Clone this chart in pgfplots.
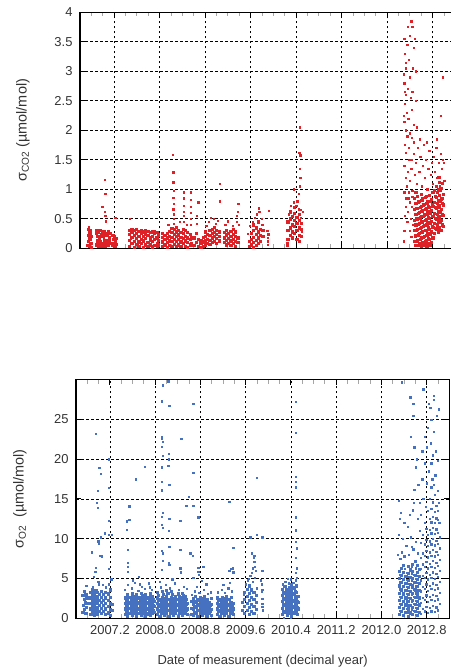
\documentclass[border=0pt]{standalone}
\usepackage{fontspec}
\setmainfont{Liberation Sans}
\usepackage{pgfplots}
\pgfplotsset{compat=1.18}
\definecolor{cred}{RGB}{222,33,38}
\definecolor{cblue}{RGB}{70,112,192}
\definecolor{ctxt}{RGB}{51,51,51}
\pgfplotsset{
 common/.style={
  scale only axis, xmin=2006.6, xmax=2013.2, ymin=0,
  xtick={2007.2,2008.0,2008.8,2009.6,2010.4,2011.2,2012.0,2012.8},
  minor xtick={2006.8,2007.0,2007.4,2007.6,2007.8,2008.2,2008.4,2008.6,2009.0,2009.2,2009.4,2009.8,2010.0,2010.2,2010.6,2010.8,2011.0,2011.4,2011.6,2011.8,2012.2,2012.4,2012.6,2013.0},
  grid=major,
  major grid style={black, line width=0.8bp, dash pattern=on 2.5bp off 2.5bp},
  axis line style={black, line width=1.1bp},
  major tick length=5bp, minor tick length=4bp,
  major tick style={black, line width=1bp},
  minor tick style={black!35, line width=1bp},
  tick align=inside,
  tick label style={font=\fontsize{13}{15}\selectfont, color=ctxt},
  yticklabel style={xshift=-4bp},
  xticklabel style={yshift=-4bp},
  label style={font=\fontsize{13}{15}\selectfont, color=ctxt},
  /pgf/number format/assume math mode=true,
 },
 core/.style={only marks, mark=square*, mark size=1.1bp, mark options={draw=none}},
 sparse/.style={only marks, mark=square*, mark size=0.65bp, mark options={draw=none}},
}
\begin{document}
\begin{tikzpicture}[x=1bp,y=1bp]
\useasboundingbox (0,0) rectangle (451,672);
\clip (0,0) rectangle (451,672);
% ---------------- top panel: CO2 ----------------
\begin{axis}[common, at={(80bp,423.7bp)}, anchor=south west,
  width=375.5bp, height=236bp, ymax=4,
  ytick={0,0.5,1,1.5,2,2.5,3,3.5,4}, xticklabels={},
  ylabel={σ\textsubscript{CO2} (µmol/mol)},
  ylabel style={font=\fontsize{14.5}{16}\selectfont, at={(axis description cs:-0.152,0.5)}, anchor=center}]
\addplot[core, color=cred] coordinates {
(2006.735,0.05)(2006.74,0.22)(2006.745,0.33)(2006.75,0.12)(2006.755,0.28)(2006.76,0.04)(2006.765,0.18)(2006.77,0.31)(2006.775,0.09)(2006.78,0.25)(2006.785,0.15)(2006.79,0.02)(2006.795,0.21)(2006.80,0.08)
(2006.88,0.25)(2006.895,0.30)(2006.91,0.21)(2006.925,0.28)(2006.94,0.19)(2006.955,0.31)(2006.97,0.24)(2006.985,0.27)(2007.00,0.20)(2007.015,0.29)(2007.03,0.23)(2007.045,0.26)(2007.08,0.22)(2007.095,0.28)(2007.11,0.19)(2007.125,0.25)
(2006.885,0.06)(2006.90,0.10)(2006.915,0.03)(2006.93,0.08)(2006.945,0.05)(2006.96,0.11)(2006.975,0.04)(2006.99,0.09)(2007.005,0.06)(2007.02,0.12)(2007.035,0.03)(2007.05,0.07)(2007.085,0.10)(2007.10,0.05)(2007.115,0.13)(2007.13,0.08)
(2007.17,0.05)(2007.18,0.15)(2007.19,0.09)(2007.20,0.20)(2007.21,0.03)(2007.22,0.12)(2007.23,0.07)(2007.24,0.17)(2007.175,0.22)(2007.215,0.10)
(2007.47,0.04)(2007.47,0.14)(2007.47,0.24)(2007.47,0.31)(2007.51,0.09)(2007.51,0.19)(2007.51,0.28)(2007.51,0.33)
(2007.55,0.02)(2007.55,0.12)(2007.55,0.22)(2007.55,0.30)(2007.59,0.07)(2007.59,0.17)(2007.59,0.26)(2007.59,0.32)
(2007.63,0.03)(2007.63,0.11)(2007.63,0.21)(2007.63,0.29)(2007.67,0.08)(2007.67,0.15)(2007.67,0.25)(2007.67,0.31)
(2007.71,0.02)(2007.71,0.13)(2007.71,0.20)(2007.71,0.28)(2007.75,0.06)(2007.75,0.17)(2007.75,0.24)(2007.75,0.30)
(2007.79,0.03)(2007.79,0.10)(2007.79,0.22)(2007.79,0.29)(2007.83,0.07)(2007.83,0.14)(2007.83,0.19)(2007.83,0.27)
(2007.87,0.02)(2007.87,0.12)(2007.87,0.21)(2007.87,0.28)(2007.91,0.05)(2007.91,0.16)(2007.91,0.25)(2007.91,0.29)
(2007.95,0.03)(2007.95,0.09)(2007.95,0.18)(2007.95,0.27)(2007.98,0.06)(2007.98,0.14)(2007.98,0.23)
(2008.05,0.03)(2008.05,0.11)(2008.05,0.19)(2008.05,0.26)(2008.09,0.06)(2008.09,0.15)(2008.09,0.22)
(2008.13,0.02)(2008.13,0.10)(2008.13,0.18)(2008.13,0.25)(2008.17,0.05)(2008.17,0.13)(2008.17,0.21)(2008.17,0.29)
(2008.21,0.03)(2008.21,0.12)(2008.21,0.19)(2008.21,0.27)(2008.21,0.34)(2008.25,0.07)(2008.25,0.16)(2008.25,0.24)(2008.25,0.32)
(2008.29,0.04)(2008.29,0.12)(2008.29,0.20)(2008.29,0.28)(2008.29,0.36)(2008.33,0.06)(2008.33,0.15)(2008.33,0.23)(2008.33,0.31)
(2008.37,0.03)(2008.37,0.11)(2008.37,0.19)(2008.37,0.27)(2008.41,0.08)(2008.41,0.17)(2008.41,0.25)(2008.41,0.33)
(2008.45,0.04)(2008.45,0.13)(2008.45,0.21)(2008.45,0.30)(2008.49,0.02)(2008.49,0.10)(2008.49,0.18)(2008.49,0.27)
(2008.53,0.06)(2008.53,0.15)(2008.53,0.24)(2008.56,0.09)(2008.56,0.19)
(2008.60,0.05)(2008.60,0.18)(2008.64,0.10)(2008.64,0.25)(2008.68,0.03)(2008.68,0.15)
(2008.72,0.02)(2008.72,0.08)(2008.72,0.14)(2008.76,0.04)(2008.76,0.11)(2008.76,0.19)
(2008.80,0.06)(2008.80,0.13)(2008.80,0.21)(2008.80,0.28)(2008.84,0.09)(2008.84,0.16)(2008.84,0.24)
(2008.88,0.07)(2008.88,0.14)(2008.88,0.22)(2008.88,0.30)(2008.92,0.10)(2008.92,0.18)(2008.92,0.25)(2008.92,0.33)
(2008.96,0.12)(2008.96,0.20)(2008.96,0.27)(2008.96,0.36)(2009.00,0.09)(2009.00,0.17)(2009.00,0.24)(2009.00,0.31)
(2009.04,0.13)(2009.04,0.21)(2009.04,0.28)
(2009.13,0.10)(2009.13,0.18)(2009.13,0.27)(2009.17,0.06)(2009.17,0.14)(2009.17,0.23)(2009.17,0.31)
(2009.21,0.09)(2009.21,0.17)(2009.21,0.26)(2009.25,0.05)(2009.25,0.13)(2009.25,0.21)(2009.25,0.29)
(2009.29,0.08)(2009.29,0.16)(2009.29,0.24)(2009.29,0.33)(2009.33,0.04)(2009.33,0.12)(2009.33,0.20)(2009.33,0.28)
(2009.37,0.10)(2009.37,0.18)
(2009.57,0.03)(2009.57,0.12)(2009.61,0.06)(2009.61,0.15)(2009.61,0.25)
(2009.65,0.02)(2009.65,0.10)(2009.65,0.19)(2009.65,0.30)(2009.65,0.40)(2009.69,0.05)(2009.69,0.14)(2009.69,0.24)(2009.69,0.35)
(2009.73,0.09)(2009.73,0.18)(2009.73,0.28)(2009.73,0.45)(2009.77,0.12)(2009.77,0.22)(2009.77,0.33)(2009.81,0.20)(2009.81,0.30)
(2010.25,0.15)(2010.25,0.30)(2010.25,0.45)(2010.29,0.22)(2010.29,0.35)(2010.29,0.50)(2010.29,0.62)
(2010.33,0.18)(2010.33,0.28)(2010.33,0.40)(2010.33,0.55)(2010.37,0.25)(2010.37,0.38)(2010.37,0.48)(2010.37,0.60)(2010.37,0.70)
(2010.41,0.15)(2010.41,0.30)(2010.41,0.42)(2010.41,0.53)(2010.45,0.12)(2010.45,0.22)(2010.45,0.35)(2010.45,0.47)(2010.45,0.58)
(2010.49,0.20)(2010.49,0.32)(2010.49,0.43)
(2012.47,0.12)(2012.47,0.30)(2012.47,0.48)(2012.47,0.66)(2012.47,0.85)
(2012.50,0.05)(2012.50,0.22)(2012.50,0.40)(2012.50,0.58)(2012.50,0.76)(2012.50,0.95)
(2012.53,0.14)(2012.53,0.32)(2012.53,0.50)(2012.53,0.68)(2012.53,0.88)
(2012.56,0.08)(2012.56,0.25)(2012.56,0.43)(2012.56,0.61)(2012.56,0.80)
(2012.59,0.04)(2012.59,0.18)(2012.59,0.36)(2012.59,0.54)(2012.59,0.72)(2012.59,0.92)
(2012.62,0.10)(2012.62,0.28)(2012.62,0.46)(2012.62,0.64)(2012.62,0.84)
(2012.65,0.06)(2012.65,0.21)(2012.65,0.39)(2012.65,0.57)(2012.65,0.75)
(2012.68,0.13)(2012.68,0.31)(2012.68,0.49)(2012.68,0.67)(2012.68,0.88)
(2012.71,0.08)(2012.71,0.26)(2012.71,0.44)(2012.71,0.62)(2012.71,0.80)
(2012.74,0.15)(2012.74,0.33)(2012.74,0.51)(2012.74,0.70)(2012.74,0.90)
(2012.77,0.10)(2012.77,0.28)(2012.77,0.46)(2012.77,0.64)(2012.77,0.83)
(2012.80,0.18)(2012.80,0.36)(2012.80,0.54)(2012.80,0.72)(2012.80,0.95)
(2012.485,0.20)(2012.485,0.40)(2012.485,0.58)(2012.485,0.77)
(2012.515,0.12)(2012.515,0.31)(2012.515,0.50)(2012.515,0.68)
(2012.545,0.05)(2012.545,0.23)(2012.545,0.41)(2012.545,0.60)(2012.545,0.79)
(2012.575,0.16)(2012.575,0.34)(2012.575,0.52)(2012.575,0.70)
(2012.605,0.09)(2012.605,0.27)(2012.605,0.45)(2012.605,0.63)(2012.605,0.82)
(2012.635,0.19)(2012.635,0.37)(2012.635,0.55)(2012.635,0.74)
(2012.665,0.12)(2012.665,0.30)(2012.665,0.48)(2012.665,0.66)(2012.665,0.86)
(2012.695,0.04)(2012.695,0.22)(2012.695,0.40)(2012.695,0.58)(2012.695,0.77)
(2012.725,0.17)(2012.725,0.35)(2012.725,0.53)(2012.725,0.71)
(2012.755,0.06)(2012.755,0.24)(2012.755,0.42)(2012.755,0.60)(2012.755,0.80)
(2012.785,0.19)(2012.785,0.37)(2012.785,0.55)(2012.785,0.74)
(2012.83,0.25)(2012.83,0.42)(2012.83,0.60)(2012.83,0.78)(2012.83,0.98)
(2012.86,0.32)(2012.86,0.50)(2012.86,0.68)(2012.86,0.86)(2012.86,1.05)
(2012.89,0.28)(2012.89,0.45)(2012.89,0.63)(2012.89,0.81)(2012.89,1.00)
(2012.92,0.35)(2012.92,0.52)(2012.92,0.70)(2012.92,0.90)(2012.92,1.12)
(2012.95,0.30)(2012.95,0.48)(2012.95,0.66)(2012.95,0.84)(2012.95,1.02)
(2012.98,0.38)(2012.98,0.56)(2012.98,0.74)(2012.98,0.92)
(2012.845,0.34)(2012.845,0.51)(2012.845,0.69)(2012.845,0.88)
(2012.875,0.40)(2012.875,0.58)(2012.875,0.77)(2012.875,0.95)
(2012.905,0.36)(2012.905,0.55)(2012.905,0.73)(2012.905,1.20)
(2012.935,0.44)(2012.935,0.61)(2012.935,0.80)(2012.935,0.98)
(2012.965,0.40)(2012.965,0.57)(2012.965,0.76)(2012.965,1.10)
};
\addplot[sparse, color=cred] coordinates {
(2006.75,0.36)(2006.77,0.14)
(2006.90,0.15)(2006.95,0.16)(2007.02,0.17)(2007.06,0.14)(2007.11,0.16)(2006.93,0.14)
(2007.04,1.16)(2007.045,0.92)(2006.99,0.70)(2007.04,0.62)(2007.045,0.55)(2007.05,0.46)(2007.22,0.52)
(2007.49,0.16)(2007.61,0.05)(2007.73,0.27)(2007.85,0.04)(2007.93,0.20)(2007.47,0.50)
(2008.25,0.42)(2008.25,0.50)(2008.25,0.58)(2008.24,0.66)(2008.25,0.75)(2008.24,0.86)(2008.25,0.98)(2008.24,1.12)(2008.24,1.29)(2008.23,1.59)
(2008.42,0.45)(2008.42,0.55)(2008.42,0.62)(2008.42,0.72)(2008.42,0.85)(2008.42,0.95)
(2008.55,0.40)(2008.55,0.50)(2008.55,0.60)(2008.55,0.70)(2008.55,0.82)(2008.55,0.95)
(2008.68,0.78)(2008.65,0.42)(2008.65,0.55)(2008.15,0.40)(2008.35,0.45)(2008.48,0.40)
(2008.86,0.45)(2008.90,0.52)(2008.95,0.50)(2008.99,0.42)(2008.82,0.38)(2009.02,0.47)(2009.06,1.10)(2009.06,0.80)
(2009.35,0.45)(2009.36,0.55)(2009.37,0.62)(2009.38,0.75)(2009.39,0.40)(2009.15,0.40)(2009.20,0.46)(2009.28,0.38)
(2009.55,0.25)(2009.58,0.38)(2009.63,0.45)(2009.67,0.52)(2009.71,0.58)(2009.75,0.62)(2009.79,0.50)(2009.74,0.68)(2009.80,0.40)
(2009.90,0.12)(2009.90,0.18)(2009.91,0.24)(2009.90,0.06)(2009.89,0.30)(2009.92,0.64)
(2010.24,0.05)(2010.24,0.09)(2010.27,0.58)(2010.30,0.72)(2010.36,0.78)(2010.42,0.80)(2010.44,0.66)(2010.47,0.65)(2010.48,0.52)(2010.50,0.28)(2010.51,0.62)
(2010.44,0.92)(2010.46,1.05)(2010.47,1.20)(2010.46,1.35)(2010.47,1.58)(2010.45,1.62)(2010.46,2.05)(2010.36,1.00)(2010.40,0.72)
(2012.30,3.55)(2012.31,3.30)(2012.32,3.05)(2012.30,2.80)(2012.33,2.60)(2012.31,2.45)(2012.34,2.30)(2012.30,2.15)(2012.32,2.00)(2012.35,1.90)
(2012.31,1.75)(2012.33,1.62)(2012.36,2.70)(2012.38,3.20)(2012.40,3.60)(2012.42,3.85)(2012.44,3.75)(2012.39,2.90)(2012.41,2.55)(2012.37,2.20)
(2012.40,1.95)(2012.43,2.35)(2012.45,3.05)(2012.46,3.40)(2012.38,1.70)(2012.42,1.50)(2012.35,3.45)(2012.29,2.95)(2012.29,2.25)(2012.44,2.65)
(2012.47,2.10)(2012.48,3.55)(2012.50,3.00)(2012.36,3.75)(2012.33,3.15)(2012.31,2.65)(2012.47,1.80)(2012.50,2.50)(2012.52,2.05)(2012.43,1.88)
(2012.98,2.90)(2012.94,2.25)(2012.99,1.45)(2012.98,0.85)
(2012.30,1.40)(2012.32,1.20)(2012.34,1.05)(2012.30,0.95)(2012.36,1.30)(2012.38,1.50)(2012.40,1.15)(2012.42,1.35)(2012.44,0.98)(2012.46,1.60)
(2012.48,1.25)(2012.50,1.45)(2012.52,1.10)(2012.54,1.70)(2012.56,1.30)(2012.58,1.55)(2012.60,1.05)(2012.62,1.40)(2012.64,1.75)(2012.66,1.20)
(2012.68,1.50)(2012.70,1.00)(2012.72,1.35)(2012.74,1.65)(2012.76,1.25)(2012.78,1.45)(2012.80,1.10)(2012.82,1.55)(2012.84,1.30)(2012.86,1.70)
(2012.88,1.20)(2012.90,1.45)(2012.92,1.05)(2012.94,1.60)(2012.96,1.35)(2012.98,1.50)(2013.00,1.15)(2012.57,1.85)(2012.69,1.80)(2012.87,1.85)
(2012.33,0.70)(2012.31,0.55)(2012.35,0.45)(2012.30,0.30)(2012.29,0.12)(2012.37,0.85)
(2012.33,0.85)(2012.36,0.62)(2012.39,0.78)(2012.41,0.50)(2012.43,0.70)(2012.45,0.40)(2012.38,0.95)(2012.44,0.88)(2012.40,0.30)(2012.42,0.20)
};
\end{axis}
% ---------------- bottom panel: O2 ----------------
\begin{axis}[common, at={(76bp,53.7bp)}, anchor=south west,
  width=373.3bp, height=238.6bp, ymax=30,
  ytick={0,5,10,15,20,25},
  xticklabels={2007.2,2008.0,2008.8,2009.6,2010.4,2011.2,2012.0,2012.8},
  ylabel={σ\textsubscript{O2}\ \ (µmol/mol)},
  ylabel style={font=\fontsize{14.5}{16}\selectfont, at={(axis description cs:-0.150,0.5)}, anchor=center},
  xlabel={Date of measurement (decimal year)},
  xlabel style={at={(axis description cs:0.5,-0.179)}, anchor=center}]
\addplot[core, color=cblue] coordinates {
(2006.72,0.8)(2006.73,1.6)(2006.74,2.4)(2006.75,1.1)(2006.76,2.0)(2006.77,3.0)(2006.78,1.4)(2006.79,2.6)(2006.72,2.9)(2006.75,3.4)(2006.77,0.6)(2006.79,1.9)
(2006.86,0.5)(2006.86,1.2)(2006.86,1.9)(2006.86,2.6)(2006.86,3.3)(2006.89,0.8)(2006.89,1.5)(2006.89,2.2)(2006.89,2.9)(2006.89,3.6)
(2006.92,0.4)(2006.92,1.1)(2006.92,1.8)(2006.92,2.5)(2006.92,3.2)(2006.95,0.7)(2006.95,1.4)(2006.95,2.1)(2006.95,2.8)(2006.95,3.5)
(2006.98,0.5)(2006.98,1.2)(2006.98,1.9)(2006.98,2.6)(2006.98,3.3)(2007.01,0.9)(2007.01,1.6)(2007.01,2.3)(2007.01,3.0)
(2007.05,0.6)(2007.05,1.3)(2007.05,2.0)(2007.05,2.7)(2007.05,3.4)(2007.08,0.9)(2007.08,1.6)(2007.08,2.3)(2007.08,3.0)
(2007.11,0.5)(2007.11,1.2)(2007.11,1.9)(2007.11,2.6)(2007.11,3.3)
(2007.17,0.7)(2007.17,1.5)(2007.17,2.3)(2007.17,3.1)(2007.20,0.4)(2007.20,1.1)(2007.20,1.9)(2007.20,2.7)(2007.20,3.6)(2007.23,1.0)(2007.23,1.8)
(2007.47,0.5)(2007.47,1.2)(2007.47,1.9)(2007.47,2.6)(2007.51,0.3)(2007.51,0.9)(2007.51,1.6)(2007.51,2.3)(2007.51,3.0)
(2007.55,0.6)(2007.55,1.3)(2007.55,2.0)(2007.55,2.7)(2007.59,0.4)(2007.59,1.0)(2007.59,1.7)(2007.59,2.4)(2007.59,3.1)
(2007.63,0.7)(2007.63,1.4)(2007.63,2.1)(2007.63,2.8)(2007.67,0.3)(2007.67,1.0)(2007.67,1.6)(2007.67,2.3)(2007.67,3.0)
(2007.71,0.6)(2007.71,1.2)(2007.71,1.9)(2007.71,2.6)(2007.75,0.4)(2007.75,1.1)(2007.75,1.8)(2007.75,2.5)(2007.75,3.2)
(2007.79,0.7)(2007.79,1.3)(2007.79,2.0)(2007.79,2.7)(2007.83,0.3)(2007.83,1.0)(2007.83,1.6)(2007.83,2.3)(2007.83,3.0)
(2007.87,0.5)(2007.87,1.2)(2007.87,1.9)(2007.87,2.6)(2007.91,0.4)(2007.91,1.1)(2007.91,1.7)(2007.91,2.4)(2007.91,3.1)
(2007.95,0.6)(2007.95,1.3)(2007.95,2.0)(2007.95,2.8)(2007.98,0.8)(2007.98,1.5)(2007.98,2.2)
(2007.49,0.85)(2007.49,1.55)(2007.49,2.25)(2007.53,0.6)(2007.53,1.25)(2007.53,1.95)(2007.53,2.65)
(2007.57,0.95)(2007.57,1.65)(2007.57,2.35)(2007.61,0.7)(2007.61,1.35)(2007.61,2.05)(2007.61,2.75)
(2007.65,1.05)(2007.65,1.75)(2007.65,2.45)(2007.69,0.65)(2007.69,1.3)(2007.69,1.95)(2007.69,2.65)
(2007.73,0.95)(2007.73,1.55)(2007.73,2.25)(2007.77,0.75)(2007.77,1.45)(2007.77,2.15)(2007.77,2.85)
(2007.81,1.0)(2007.81,1.65)(2007.81,2.35)(2007.85,0.65)(2007.85,1.3)(2007.85,1.95)(2007.85,2.65)
(2007.89,0.85)(2007.89,1.55)(2007.89,2.25)(2007.93,0.75)(2007.93,1.4)(2007.93,2.05)(2007.93,2.75)
(2007.97,0.95)(2007.97,1.65)(2007.97,2.4)
(2008.04,0.5)(2008.04,1.2)(2008.04,1.9)(2008.04,2.6)(2008.04,3.3)(2008.08,0.3)(2008.08,1.0)(2008.08,1.7)(2008.08,2.4)
(2008.12,0.6)(2008.12,1.3)(2008.12,2.0)(2008.12,2.7)(2008.12,3.4)(2008.16,0.4)(2008.16,1.1)(2008.16,1.8)(2008.16,2.5)
(2008.20,0.7)(2008.20,1.4)(2008.20,2.1)(2008.20,2.8)(2008.20,3.5)(2008.24,0.3)(2008.24,1.0)(2008.24,1.7)(2008.24,2.4)
(2008.28,0.6)(2008.28,1.3)(2008.28,2.0)(2008.28,2.7)(2008.28,3.4)(2008.32,0.4)(2008.32,1.1)(2008.32,1.8)(2008.32,2.5)
(2008.36,0.7)(2008.36,1.4)(2008.36,2.1)(2008.36,2.8)(2008.40,0.3)(2008.40,1.0)(2008.40,1.7)(2008.40,2.4)(2008.40,3.1)
(2008.44,0.6)(2008.44,1.3)(2008.44,2.0)(2008.44,2.7)(2008.48,0.4)(2008.48,1.1)(2008.48,1.8)(2008.48,2.5)(2008.48,3.2)
(2008.52,0.7)(2008.52,1.4)(2008.52,2.1)(2008.52,2.8)(2008.56,0.5)(2008.56,1.2)(2008.56,1.9)
(2008.06,0.85)(2008.06,1.55)(2008.06,2.25)(2008.06,2.95)(2008.10,0.65)(2008.10,1.35)(2008.10,2.05)
(2008.14,0.95)(2008.14,1.65)(2008.14,2.35)(2008.14,3.05)(2008.18,0.75)(2008.18,1.45)(2008.18,2.15)
(2008.22,1.05)(2008.22,1.75)(2008.22,2.45)(2008.22,3.15)(2008.26,0.65)(2008.26,1.35)(2008.26,2.05)
(2008.30,0.95)(2008.30,1.65)(2008.30,2.35)(2008.30,3.05)(2008.34,0.75)(2008.34,1.45)(2008.34,2.15)
(2008.38,1.05)(2008.38,1.75)(2008.38,2.45)(2008.42,0.65)(2008.42,1.35)(2008.42,2.05)(2008.42,2.75)
(2008.46,0.95)(2008.46,1.65)(2008.46,2.35)(2008.50,0.75)(2008.50,1.45)(2008.50,2.15)(2008.50,2.85)
(2008.54,1.05)(2008.54,1.75)(2008.54,2.45)
(2008.63,0.5)(2008.63,1.3)(2008.63,2.1)(2008.67,0.4)(2008.67,1.1)(2008.67,1.8)(2008.67,2.5)
(2008.71,0.7)(2008.71,1.4)(2008.71,2.1)(2008.71,2.8)(2008.75,0.3)(2008.75,1.0)(2008.75,1.7)(2008.75,2.4)
(2008.79,0.6)(2008.79,1.3)(2008.79,2.0)(2008.79,2.7)(2008.83,0.4)(2008.83,1.1)(2008.83,1.8)(2008.83,2.5)
(2008.87,0.7)(2008.87,1.4)(2008.87,2.1)(2008.87,2.8)(2008.91,0.3)(2008.91,1.0)(2008.91,1.7)(2008.91,2.4)
(2008.95,0.6)(2008.95,1.3)(2008.95,2.0)(2008.99,0.4)(2008.99,1.1)(2008.99,1.8)(2008.99,2.5)
(2008.69,0.75)(2008.69,1.45)(2008.69,2.15)(2008.73,0.65)(2008.73,1.35)(2008.73,2.05)(2008.77,1.0)(2008.77,1.65)(2008.77,2.35)
(2008.81,0.75)(2008.81,1.45)(2008.81,2.15)(2008.85,0.65)(2008.85,1.35)(2008.85,2.05)(2008.89,1.0)(2008.89,1.75)(2008.89,2.45)
(2008.93,0.65)(2008.93,1.35)(2008.93,2.05)(2008.97,0.9)(2008.97,1.6)
(2009.10,0.5)(2009.10,1.2)(2009.10,1.9)(2009.10,2.6)(2009.14,0.3)(2009.14,1.0)(2009.14,1.7)(2009.14,2.4)
(2009.18,0.6)(2009.18,1.3)(2009.18,2.0)(2009.18,2.7)(2009.22,0.4)(2009.22,1.1)(2009.22,1.8)(2009.22,2.5)
(2009.26,0.7)(2009.26,1.4)(2009.26,2.1)(2009.26,2.8)(2009.30,0.3)(2009.30,1.0)(2009.30,1.7)(2009.30,2.4)
(2009.34,0.6)(2009.34,1.3)(2009.34,2.0)(2009.34,2.7)(2009.38,0.5)(2009.38,1.2)(2009.38,1.9)
(2009.12,0.85)(2009.12,1.55)(2009.12,2.25)(2009.16,0.65)(2009.16,1.35)(2009.16,2.05)(2009.20,0.95)(2009.20,1.65)(2009.20,2.35)
(2009.24,0.75)(2009.24,1.45)(2009.24,2.15)(2009.28,1.05)(2009.28,1.75)(2009.28,2.45)(2009.32,0.65)(2009.32,1.35)(2009.32,2.05)
(2009.36,0.95)(2009.36,1.65)
(2009.54,1.0)(2009.54,2.0)(2009.58,0.6)(2009.58,1.5)(2009.58,2.4)(2009.58,3.3)(2009.62,1.0)(2009.62,1.9)(2009.62,2.8)(2009.62,3.7)
(2009.66,0.5)(2009.66,1.4)(2009.66,2.3)(2009.66,3.2)(2009.66,4.1)(2009.70,0.9)(2009.70,1.8)(2009.70,2.7)(2009.70,3.6)
(2009.74,0.6)(2009.74,1.5)(2009.74,2.4)(2009.74,3.3)(2009.78,1.1)(2009.78,2.0)(2009.78,2.9)
(2010.25,0.5)(2010.25,1.3)(2010.25,2.1)(2010.25,2.9)(2010.25,3.7)(2010.29,0.8)(2010.29,1.6)(2010.29,2.4)(2010.29,3.2)(2010.29,4.0)
(2010.33,0.4)(2010.33,1.2)(2010.33,2.0)(2010.33,2.8)(2010.33,3.6)(2010.37,0.7)(2010.37,1.5)(2010.37,2.3)(2010.37,3.1)(2010.37,3.9)
(2010.41,0.3)(2010.41,1.1)(2010.41,1.9)(2010.41,2.7)(2010.41,3.5)(2010.41,4.3)(2010.45,0.6)(2010.45,1.4)(2010.45,2.2)(2010.45,3.0)(2010.45,3.8)
(2010.49,0.9)(2010.49,1.7)(2010.49,2.5)(2010.49,3.3)(2010.49,4.1)(2010.52,1.2)(2010.52,2.0)(2010.52,2.8)
(2010.27,0.9)(2010.27,1.7)(2010.27,2.5)(2010.27,3.3)(2010.31,1.2)(2010.31,2.0)(2010.31,2.8)(2010.31,3.6)
(2010.35,0.8)(2010.35,1.6)(2010.35,2.4)(2010.35,3.2)(2010.39,1.1)(2010.39,1.9)(2010.39,2.7)(2010.39,3.5)
(2010.43,0.7)(2010.43,1.5)(2010.43,2.3)(2010.43,3.1)(2010.43,3.9)(2010.47,1.0)(2010.47,1.8)(2010.47,2.6)(2010.47,3.4)
(2010.51,0.5)(2010.51,1.4)(2010.51,2.2)
(2012.31,0.5)(2012.31,1.4)(2012.31,2.3)(2012.31,3.2)(2012.31,4.1)(2012.31,5.0)(2012.31,5.9)
(2012.35,0.9)(2012.35,1.8)(2012.35,2.7)(2012.35,3.6)(2012.35,4.5)(2012.35,5.4)(2012.35,6.3)
(2012.39,0.4)(2012.39,1.3)(2012.39,2.2)(2012.39,3.1)(2012.39,4.0)(2012.39,4.9)(2012.39,5.8)(2012.39,6.7)
(2012.43,0.8)(2012.43,1.7)(2012.43,2.6)(2012.43,3.5)(2012.43,4.4)(2012.43,5.3)
(2012.47,0.3)(2012.47,1.2)(2012.47,2.1)(2012.47,3.0)(2012.47,3.9)(2012.47,4.8)(2012.47,5.7)(2012.47,6.6)
(2012.51,0.7)(2012.51,1.6)(2012.51,2.5)(2012.51,3.4)(2012.51,4.3)(2012.51,5.2)(2012.51,6.1)
(2012.55,0.5)(2012.55,1.4)(2012.55,2.3)(2012.55,3.2)(2012.55,4.1)(2012.55,5.0)(2012.55,5.9)(2012.55,6.8)
(2012.59,0.9)(2012.59,1.8)(2012.59,2.7)(2012.59,3.6)(2012.59,4.5)(2012.59,5.4)(2012.59,7.2)
(2012.63,0.4)(2012.63,1.3)(2012.63,2.2)(2012.63,3.1)(2012.63,4.0)(2012.63,4.9)(2012.63,5.8)(2012.63,6.7)
(2012.67,0.8)(2012.67,1.7)(2012.67,2.6)(2012.67,3.5)(2012.67,4.4)(2012.67,5.3)(2012.67,6.2)
};
\addplot[sparse, color=cblue] coordinates {
(2012.33,0.95)(2012.33,1.85)(2012.33,2.75)(2012.33,3.65)(2012.33,4.55)(2012.33,5.45)
(2012.37,0.45)(2012.37,1.35)(2012.37,2.25)(2012.37,3.15)(2012.37,4.05)(2012.37,4.95)(2012.37,5.85)
(2012.41,0.85)(2012.41,1.75)(2012.41,2.65)(2012.41,3.55)(2012.41,4.45)(2012.41,5.35)(2012.41,6.25)
(2012.45,1.25)(2012.45,2.15)(2012.45,3.05)(2012.45,3.95)(2012.45,4.85)(2012.45,5.75)
(2012.49,0.75)(2012.49,1.65)(2012.49,2.55)(2012.49,3.45)(2012.49,4.35)(2012.49,5.25)
(2012.53,1.15)(2012.53,2.05)(2012.53,2.95)(2012.53,3.85)(2012.53,4.75)(2012.53,5.65)(2012.53,6.55)
(2012.57,0.95)(2012.57,1.85)(2012.57,2.75)(2012.57,3.65)(2012.57,4.55)(2012.57,5.45)
(2012.61,0.45)(2012.61,1.35)(2012.61,2.25)(2012.61,3.15)(2012.61,4.05)(2012.61,4.95)(2012.61,6.3)
(2012.65,0.85)(2012.65,1.75)(2012.65,2.65)(2012.65,3.55)(2012.65,4.45)(2012.65,5.35)
(2006.95,23.2)(2007.01,18.9)(2007.04,18.2)(2006.98,16.0)(2006.97,14.5)(2006.98,13.9)(2007.18,12.3)(2007.18,16.4)(2007.11,10.7)(2007.00,9.4)
(2006.99,9.7)(2007.04,10.2)(2006.88,8.3)(2007.02,7.9)(2007.05,7.8)(2006.95,6.4)(2006.94,5.9)(2006.91,5.2)(2007.18,6.2)(2007.18,10.5)
(2007.23,10.5)(2007.18,20.0)(2007.22,4.9)(2006.99,4.6)(2007.07,4.2)(2006.90,4.0)(2006.78,4.1)(2007.12,3.9)(2007.18,4.3)(2007.00,4.3)
(2007.50,12.2)(2007.54,12.4)(2007.54,14.1)(2007.51,8.6)(2007.51,7.0)(2007.50,11.1)(2007.81,19.1)(2007.65,17.5)(2007.71,5.2)
(2007.46,3.6)(2007.52,4.2)(2007.58,3.8)(2007.64,4.5)(2007.70,3.5)(2007.76,4.0)(2007.82,3.7)(2007.88,4.4)(2007.94,3.6)(2007.60,4.8)(2007.72,4.3)(2007.90,3.9)
(2008.13,29.3)(2008.23,29.8)(2008.12,27.3)(2008.25,26.7)(2008.67,27.0)(2008.12,22.8)(2008.12,22.6)(2008.13,22.2)(2008.46,22.6)(2008.12,21.6)
(2008.24,20.7)(2008.13,20.4)(2008.24,20.0)(2008.23,19.2)(2008.67,18.3)(2008.12,19.0)(2008.12,17.2)(2008.25,16.8)(2008.12,16.1)(2008.59,15.3)
(2009.31,14.7)(2009.79,17.7)(2008.13,13.3)(2008.25,12.5)(2008.12,12.8)(2008.55,14.2)(2008.67,14.2)(2008.44,12.3)(2008.76,12.7)(2008.12,11.8)
(2008.13,11.4)(2008.24,11.0)(2008.25,9.0)(2008.44,8.6)(2008.62,8.2)(2008.66,7.9)(2008.12,8.5)(2008.13,8.2)(2008.13,7.2)(2008.24,7.0)
(2008.25,6.7)(2008.44,6.3)(2008.12,6.1)(2008.45,5.8)(2008.76,6.4)(2008.76,5.9)(2008.77,5.5)(2008.85,6.5)(2008.67,5.1)(2007.51,5.9)(2007.51,6.5)
(2008.10,3.9)(2008.18,4.2)(2008.26,3.8)(2008.34,4.4)(2008.42,3.6)(2008.50,4.0)(2008.30,4.9)(2008.08,4.6)(2008.56,3.7)
(2008.64,3.0)(2008.70,3.4)(2008.78,3.2)(2008.86,3.6)(2008.93,3.1)(2008.98,3.3)(2008.74,4.0)(2008.90,4.3)(2008.82,4.7)
(2009.11,3.3)(2009.17,3.6)(2009.23,3.2)(2009.29,3.8)(2009.35,3.4)(2009.20,4.2)(2009.32,4.5)(2009.33,6.2)(2009.31,6.0)
(2009.71,8.2)(2009.74,7.6)(2009.75,7.1)(2009.76,6.5)(2009.78,6.0)(2009.87,4.8)(2009.65,5.0)(2009.71,5.7)
(2009.56,3.0)(2009.60,4.3)(2009.64,4.8)(2009.68,5.4)(2009.72,4.6)(2009.76,5.1)(2009.80,3.8)(2009.88,3.4)(2009.89,2.5)(2009.89,1.5)(2009.88,4.3)(2009.90,1.0)
(2009.75,7.9)(2009.73,6.3)(2009.79,10.5)(2009.68,10.2)(2009.89,10.2)(2009.38,8.9)(2009.37,6.3)(2009.38,5.8)(2009.89,6.0)(2009.89,3.6)(2009.89,1.8)
(2010.49,27.2)(2010.49,23.3)(2010.49,17.8)(2010.49,17.2)(2010.49,16.5)(2010.49,12.7)(2010.49,11.1)(2010.49,11.0)(2010.48,9.6)(2010.50,8.8)
(2010.49,7.6)(2010.50,6.3)(2010.48,5.7)
(2010.26,4.3)(2010.30,4.6)(2010.36,4.4)(2010.40,4.9)(2010.44,4.5)(2010.48,4.8)(2010.50,5.1)(2010.34,5.0)(2010.27,0.1)(2010.40,0.05)
(2012.70,0.6)(2012.70,2.0)(2012.70,3.4)(2012.70,4.8)(2012.70,6.2)(2012.70,7.6)(2012.70,9.5)
(2012.73,1.2)(2012.73,2.6)(2012.73,4.0)(2012.73,5.4)(2012.73,6.8)(2012.73,8.2)(2012.73,10.5)
(2012.76,0.9)(2012.76,2.3)(2012.76,3.7)(2012.76,5.1)(2012.76,6.5)(2012.76,7.9)(2012.76,9.3)(2012.76,12.0)
(2012.79,1.5)(2012.79,2.9)(2012.79,4.3)(2012.79,5.7)(2012.79,7.1)(2012.79,8.5)(2012.79,9.9)(2012.79,11.3)
(2012.82,0.7)(2012.82,2.1)(2012.82,3.5)(2012.82,4.9)(2012.82,6.3)(2012.82,7.7)(2012.82,9.1)(2012.82,10.5)(2012.82,13.5)
(2012.85,1.3)(2012.85,2.7)(2012.85,4.1)(2012.85,5.5)(2012.85,6.9)(2012.85,8.3)(2012.85,9.7)(2012.85,11.1)(2012.85,12.5)(2012.85,15.0)
(2012.88,0.9)(2012.88,2.3)(2012.88,3.7)(2012.88,5.1)(2012.88,6.5)(2012.88,7.9)(2012.88,9.3)(2012.88,10.7)(2012.88,12.1)(2012.88,13.8)(2012.88,16.5)
(2012.91,1.6)(2012.91,3.0)(2012.91,4.4)(2012.91,5.8)(2012.91,7.2)(2012.91,8.6)(2012.91,10.0)(2012.91,11.4)(2012.91,12.8)(2012.91,14.6)
(2012.94,0.8)(2012.94,2.2)(2012.94,3.6)(2012.94,5.0)(2012.94,6.4)(2012.94,7.8)(2012.94,9.2)(2012.94,10.6)(2012.94,12.0)(2012.94,13.4)(2012.94,15.5)
(2012.97,1.4)(2012.97,2.8)(2012.97,4.2)(2012.97,5.6)(2012.97,7.0)(2012.97,8.4)(2012.97,9.8)(2012.97,11.2)(2012.97,12.6)(2012.97,14.2)
(2013.00,1.0)(2013.00,2.4)(2013.00,3.8)(2013.00,5.2)(2013.00,6.6)(2013.00,8.0)(2013.00,9.4)(2013.00,10.8)(2013.00,12.4)
(2013.03,1.8)(2013.03,3.2)(2013.03,4.6)(2013.03,6.0)(2013.03,7.4)(2013.03,8.8)(2013.03,10.2)
(2012.33,7.5)(2012.36,8.3)(2012.40,7.8)(2012.44,9.1)(2012.48,8.0)(2012.52,10.2)(2012.56,8.7)(2012.60,9.6)(2012.64,8.2)(2012.68,11.0)
(2012.31,10.5)(2012.32,12.5)(2012.34,13.3)(2012.55,13.6)(2012.57,14.5)(2012.58,16.2)(2012.60,19.0)(2012.58,21.5)(2012.57,25.5)(2012.56,27.0)
(2012.62,20.0)(2012.65,16.8)(2012.70,13.0)(2012.72,17.5)(2012.74,15.0)(2012.76,19.5)(2012.78,14.0)(2012.80,21.5)(2012.80,17.0)(2012.82,24.0)
(2012.84,18.5)(2012.86,26.5)(2012.87,22.0)(2012.88,19.5)(2012.90,17.5)(2012.91,20.5)(2012.92,23.5)(2012.93,16.8)(2012.95,18.0)(2012.96,21.0)
(2012.98,25.5)(2012.99,16.0)(2013.00,19.8)(2013.01,14.5)(2013.02,12.0)(2012.99,13.5)(2012.93,27.5)(2012.74,28.8)(2012.84,27.0)(2012.88,25.0)
(2012.76,22.8)(2012.72,21.0)(2012.40,12.0)(2012.38,10.0)(2012.46,11.5)(2012.50,13.0)(2012.53,9.0)(2012.29,8.0)(2012.30,14.8)(2012.92,28.0)
(2012.68,14.5)(2012.51,27.8)(2012.64,12.5)(2013.01,26.3)(2012.55,25.5)(2012.52,22.8)(2012.36,29.7)
};
\end{axis}
\end{tikzpicture}
\end{document}
